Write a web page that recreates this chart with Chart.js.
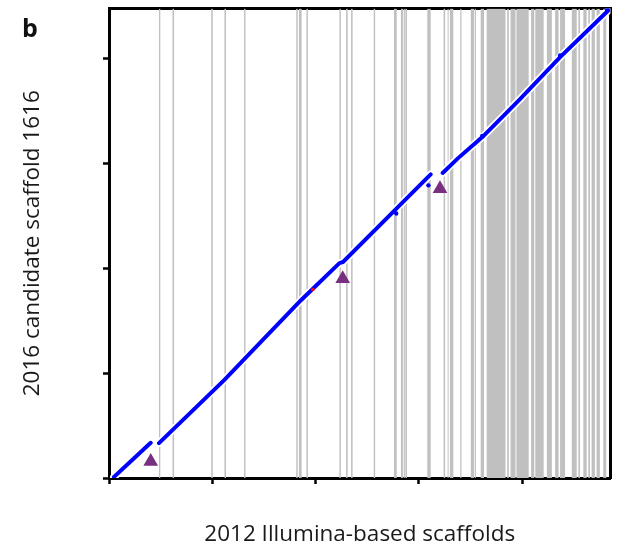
<!DOCTYPE html>
<html>
<head>
<meta charset="utf-8">
<script src="https://cdn.jsdelivr.net/npm/chart.js@4/dist/chart.umd.min.js"></script>
<style>
  html, body { margin: 0; padding: 0; background: #fff; }
  #wrap { position: relative; width: 619px; height: 549px; }
  #panel { position: absolute; left: 22px; top: 10px; font: bold 25px "Open Sans", sans-serif; color: #111; }
</style>
</head>
<body>
<div id="wrap">
  <canvas id="c" width="619" height="549"></canvas>
  <div id="panel">b</div>
</div>
<script>
// ---- data (axis units: one tick interval = 1) ----
const xMax = 4.856;
const yMax = 4.476;
const tickStep = 1;

// gray bands: scaffold boundary regions [start, end] on the 2012 axis
const grayBands = [
  [0.484,0.497],[0.615,0.630],[0.990,1.005],[1.118,1.133],[1.308,1.322],
  [1.813,1.827],[1.839,1.865],[1.912,1.926],[2.231,2.245],[2.296,2.311],
  [2.344,2.359],[2.563,2.577],[2.760,2.786],[2.827,2.846],[2.854,2.865],
  [2.870,2.885],[3.082,3.115],[3.240,3.255],[3.279,3.288],[3.301,3.334],
  [3.401,3.413],[3.503,3.534],[3.541,3.553],[3.599,3.632],[3.657,3.839],
  [3.856,3.872],[3.888,3.936],[3.945,4.064],[4.087,4.118],[4.128,4.209],
  [4.240,4.288],[4.320,4.353],[4.368,4.416],[4.481,4.529],[4.545,4.561],
  [4.593,4.625],[4.641,4.657],[4.673,4.705],[4.721,4.753],[4.786,4.817]
];

// alignment path (x on 2012 scaffolds, y on 2016 scaffold); null = gap
const alignX = [0.048,0.404,null,0.484,1.115,1.859,2.231,2.266,2.766,2.790,3.115,null,3.231,3.375,3.615,3.968,4.368,4.834];
const alignY = [0.010,0.336,null,0.333,0.933,1.695,2.048,2.060,2.552,2.575,2.895,null,2.908,3.045,3.250,3.600,4.012,4.457];

// isolated alignment dots
const dotX = [2.781,3.093,3.615,4.368,4.820];
const dotY = [2.521,2.790,3.262,4.028,4.470];

// mismatch (red)
const redX = [1.974];
const redY = [1.797];

// triangles marking insertions
const triX = [0.404,2.263,3.205];
const triY = [0.157,1.900,2.757];

// ---- build ----
const bandPts = [];
grayBands.forEach(([s,e]) => {
  bandPts.push({x:s,y:0},{x:s,y:yMax},{x:e,y:yMax},{x:e,y:0});
});
const alignPts = alignX.map((x,i) => ({x: x, y: alignY[i]}));
const dotPts = dotX.map((x,i) => ({x, y: dotY[i]}));
const redPts = redX.map((x,i) => ({x, y: redY[i]}));
const triPts = triX.map((x,i) => ({x, y: triY[i]}));

const FONT = '"Open Sans", sans-serif';
const frameAxis = (pos, max) => ({
  type: 'linear', position: pos, min: 0, max: max, display: true,
  ticks: { display: false },
  grid: { display: true, drawOnChartArea: false, drawTicks: false },
  border: { display: true, width: 3, color: '#000' }
});

new Chart(document.getElementById('c'), {
  type: 'line',
  data: {
    datasets: [
      { data: triPts, showLine: false, pointStyle: 'triangle', pointRadius: 8.5,
        backgroundColor: '#782f80', borderWidth: 0, order: 1 },
      { data: redPts, showLine: false, pointRadius: 1.8, backgroundColor: '#ff0000', borderWidth: 0, order: 2 },
      { data: dotPts, showLine: false, pointRadius: 2.2, backgroundColor: '#0000ff', borderWidth: 0, order: 3 },
      { data: alignPts, borderColor: '#0000ff', borderWidth: 4, pointRadius: 0, spanGaps: false,
        borderCapStyle: 'round', fill: false, order: 4 },
      { data: alignPts, borderColor: '#ffffff', borderWidth: 7.5, pointRadius: 0, spanGaps: false,
        borderCapStyle: 'round', fill: false, order: 5 },
      { data: bandPts, borderWidth: 0, borderColor: 'rgba(0,0,0,0)', pointRadius: 0,
        backgroundColor: '#c0c0c0', fill: 'origin', order: 6 }
    ]
  },
  options: {
    responsive: false,
    animation: false,
    devicePixelRatio: 1,
    layout: { padding: { top: 8, right: 0, left: 0, bottom: 0 } },
    plugins: { legend: { display: false }, tooltip: { enabled: false } },
    scales: {
      x: {
        type: 'linear', position: 'bottom', min: 0, max: xMax,
        ticks: { display: false, stepSize: tickStep, includeBounds: false },
        grid: { display: true, drawOnChartArea: false, drawTicks: true, tickLength: 6, tickWidth: 2.5, tickColor: '#000' },
        border: { display: true, width: 3, color: '#000' },
        title: { display: true, text: '2012 Illumina-based scaffolds', color: '#1a1a1a',
          font: { family: FONT, size: 22.5 }, padding: { top: 37.5, bottom: 0.5 } }
      },
      y: {
        type: 'linear', position: 'left', min: 0, max: yMax,
        ticks: { display: false, stepSize: tickStep, includeBounds: false },
        grid: { display: true, drawOnChartArea: false, drawTicks: true, tickLength: 6, tickWidth: 2.5, tickColor: '#000' },
        border: { display: true, width: 3, color: '#000' },
        title: { display: true, text: '2016 candidate scaffold 1616', color: '#1a1a1a',
          font: { family: FONT, size: 22.5 }, padding: { top: 19.5, bottom: 56.5 } }
      },
      xTop: frameAxis('top', xMax),
      yRight: frameAxis('right', yMax)
    }
  }
});
</script>
</body>
</html>
